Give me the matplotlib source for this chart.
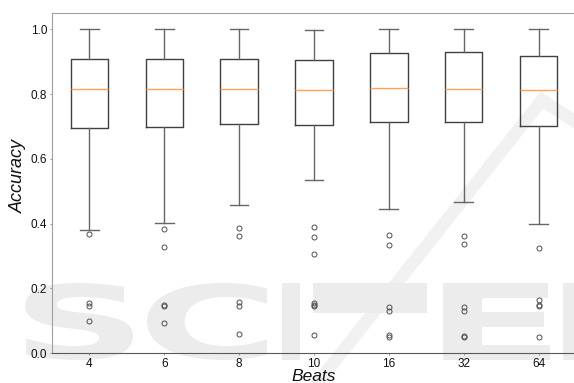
import numpy as np
import matplotlib
matplotlib.use("Agg")
from matplotlib import pyplot as plt
from matplotlib.textpath import TextPath
from matplotlib.font_manager import FontProperties
from matplotlib.patches import PathPatch, Rectangle
from matplotlib.lines import Line2D
from matplotlib.transforms import Affine2D

plt.rcParams['font.family'] = ['Liberation Sans', 'DejaVu Sans']

beats = ["4", "6", "8", "10", "16", "32", "64"]

# summary statistics per window length
q1 = [0.695, 0.699, 0.706, 0.703, 0.714, 0.714, 0.700]
medians = [0.816, 0.814, 0.814, 0.812, 0.820, 0.817, 0.811]
q3 = [0.908, 0.908, 0.908, 0.906, 0.928, 0.931, 0.916]
whislo = [0.380, 0.401, 0.458, 0.535, 0.446, 0.466, 0.400]
whishi = [1.0, 1.0, 1.0, 0.998, 1.0, 1.0, 1.0]
fliers = [
    [0.368, 0.156, 0.147, 0.100],
    [0.383, 0.328, 0.148, 0.146, 0.094],
    [0.388, 0.363, 0.157, 0.147, 0.060],
    [0.391, 0.358, 0.306, 0.155, 0.150, 0.147, 0.058],
    [0.365, 0.334, 0.144, 0.129, 0.056, 0.049],
    [0.361, 0.336, 0.144, 0.129, 0.052, 0.050],
    [0.326, 0.166, 0.149, 0.147, 0.050],
]

stats = []
for i in range(len(beats)):
    stats.append(dict(label=beats[i], q1=q1[i], med=medians[i], q3=q3[i],
                      whislo=whislo[i], whishi=whishi[i], fliers=fliers[i]))

fig = plt.figure(figsize=(5.74, 3.83), dpi=100)

# faint publisher mark behind the plot (drawn in pixel coords)
H = 383
wm = '#ececec'
fp = FontProperties(family='DejaVu Sans', weight='bold')


def letter(ch, x0, x1, y0, y1):
    tp = TextPath((0, 0), ch, size=100, prop=fp)
    ext = tp.get_extents()
    sx = (x1 - x0) / ext.width
    sy = (y1 - y0) / ext.height
    tr = Affine2D().translate(-ext.x0, -ext.y0).scale(sx, sy).translate(x0, H - y1)
    p = PathPatch(tr.transform_path(tp), fc=wm, ec='none', transform=None, zorder=-5)
    fig.add_artist(p)


letter("S", 25, 133, 283, 360)
letter("C", 147, 267, 283, 360)
letter("I", 282, 300, 283, 360)
letter("E", 443, 550, 283, 360)
letter("P", 563, 650, 283, 360)
fig.add_artist(Rectangle((313, H - 313), 114, 30, fc=wm, ec='none', transform=None, zorder=-5))
fig.add_artist(Line2D([312, 542, 600], [H - 390, H - 100, H - 138], color='#f1f1f1',
                      lw=9, solid_joinstyle='miter', transform=None, zorder=-6))

ax = fig.add_axes([52 / 574, 1 - 353.3 / 383, 524 / 574, (353.3 - 13) / 383])
ax.patch.set_alpha(0)

ax.bxp(stats, widths=0.5, showfliers=True,
       boxprops=dict(color='#404040', lw=1.0),
       whiskerprops=dict(color='#666666', lw=1.0),
       capprops=dict(color='#666666', lw=1.0),
       medianprops=dict(color='#ffa25a', lw=1.0),
       flierprops=dict(marker='o', markersize=3.6, markerfacecolor='none',
                       markeredgecolor='#505050', markeredgewidth=0.7))

ax.set_xlim(0.5, 7.5)
ax.set_ylim(0, 1.05)
ax.set_yticks([0.0, 0.2, 0.4, 0.6, 0.8, 1.0])
ax.tick_params(axis='both', length=1.5, width=0.6, color='#888888',
               labelsize=8.5, pad=2, labelcolor='#111111')

for side in ['top', 'left']:
    ax.spines[side].set_color('#a0a0a0')
ax.spines['bottom'].set_color('#5a5a5a')
ax.spines['right'].set_visible(False)

ax.set_ylabel("Accuracy", fontsize=13, style='italic', color='#111111')
ax.yaxis.set_label_coords(-0.047, 0.52)
ax.set_xlabel("Beats", fontsize=12.5, style='italic', color='#111111', labelpad=-1)

fig.savefig("out.png", dpi=100)
